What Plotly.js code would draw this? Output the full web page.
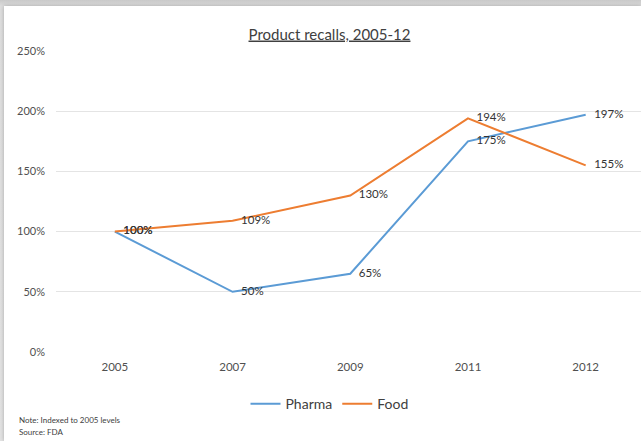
<!DOCTYPE html>
<html>
<head>
<meta charset="utf-8">
<script src="https://cdn.plot.ly/plotly-3.0.1.min.js"></script>
<style>
  html, body { margin: 0; padding: 0; width: 641px; height: 441px; overflow: hidden; }
  body { background: linear-gradient(#c9c9c9, #dedede 6px, #e3e3e3); position: relative; }
  #chart { position: absolute; left: 4px; top: 6px; width: 637px; height: 435px;
           background: #fff; box-shadow: 0 0 4px rgba(0,0,0,0.25); }
</style>
</head>
<body>
<div id="chart"></div>
<script>
// Recall counts indexed to 2005 (= 100%)
const years = ['2005', '2007', '2009', '2011', '2012'];
const pharma = [100, 50, 65, 175, 197];
const food = [100, 109, 130, 194, 155];
const yTickVals = [0, 50, 100, 150, 200, 250];
const yTickText = ['0%', '50%', '100%', '150%', '200%', '250%'];

const labelFont = { family: 'Lato, "Open Sans", sans-serif', size: 11.5, color: '#333333' };

function series(name, values, color) {
  return {
    type: 'scatter',
    mode: 'lines+markers+text',
    name: name,
    x: years,
    y: values,
    text: values.map(v => v + '%'),
    textposition: 'middle right',
    textfont: labelFont,
    line: { color: color, width: 2 },
    marker: { size: 12, color: 'rgba(0,0,0,0)' },
    cliponaxis: false,
    hoverinfo: 'skip'
  };
}

const data = [
  series('Pharma', pharma, '#5b9bd5'),
  series('Food', food, '#ed7d31')
];

const layout = {
  width: 637,
  height: 435,
  margin: { l: 52, r: 0, t: 45, b: 89 },
  paper_bgcolor: '#ffffff',
  plot_bgcolor: '#ffffff',
  font: { family: 'Lato, "Open Sans", sans-serif', color: '#595959' },
  title: {
    text: 'Product recalls, 2005-12',
    font: { size: 15, color: '#404040', lineposition: 'under' },
    xref: 'container', x: 0.511, xanchor: 'center',
    yref: 'container', y: 0.935, yanchor: 'middle'
  },
  xaxis: {
    type: 'category',
    range: [-0.5, 4.47],
    showgrid: false,
    zeroline: false,
    showline: false,
    ticks: '',
    tickfont: { size: 11.5, color: '#505050' },
    ticklabelstandoff: 6,
    fixedrange: true
  },
  yaxis: {
    range: [0, 250],
    tickvals: yTickVals,
    ticktext: yTickText,
    showgrid: true,
    gridcolor: '#e4e4e4',
    gridwidth: 1,
    zeroline: false,
    showline: false,
    ticks: '',
    tickfont: { size: 11, color: '#505050' },
    ticklabelstandoff: 10,
    fixedrange: true
  },
  showlegend: true,
  legend: {
    orientation: 'h',
    xref: 'container', x: 0.511, xanchor: 'center',
    yref: 'container', y: 0.085, yanchor: 'middle',
    font: { size: 14, color: '#404040' },
    bgcolor: 'rgba(0,0,0,0)'
  },
  annotations: [
    {
      text: 'Note: Indexed to 2005 levels',
      xref: 'paper', yref: 'paper',
      x: -0.067, y: -0.226, xanchor: 'left', yanchor: 'middle',
      showarrow: false, align: 'left',
      font: { size: 8, color: '#404040' }
    },
    {
      text: 'Source: FDA',
      xref: 'paper', yref: 'paper',
      x: -0.067, y: -0.266, xanchor: 'left', yanchor: 'middle',
      showarrow: false, align: 'left',
      font: { size: 8, color: '#404040' }
    }
  ]
};

Plotly.newPlot('chart', data, layout, { staticPlot: true, displayModeBar: false });
</script>
</body>
</html>
